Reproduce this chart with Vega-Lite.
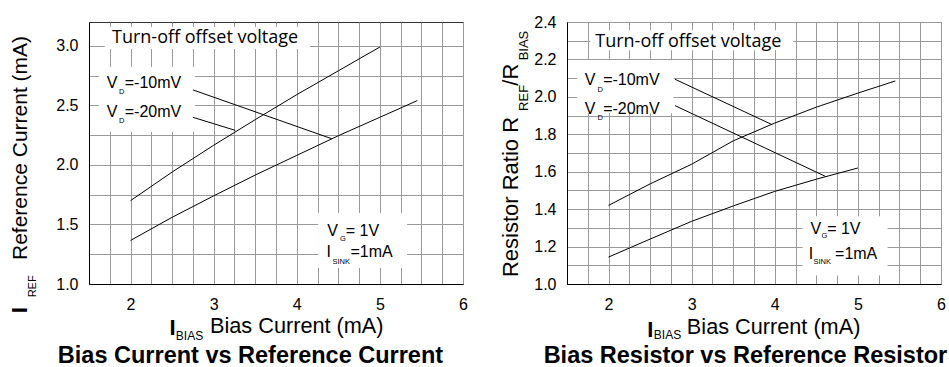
{
  "$schema": "https://vega.github.io/schema/vega-lite/v6.json",
  "padding": {"left": 8, "top": 13, "right": 0, "bottom": 0},
  "background": "white",
  "bounds": "flush",
  "spacing": 104,
  "config": {
    "font": "Liberation Sans",
    "view": {"stroke": "#333333", "strokeWidth": 1},
    "axis": {
      "grid": true, "gridColor": "#9a9a9a", "gridWidth": 1, "ticks": false,
      "domain": true, "domainColor": "#000000", "domainWidth": 1,
      "labelFont": "Liberation Sans", "labelFontSize": 16, "labelColor": "#000000",
      "labelFlush": false, "labelOverlap": false, "labelBound": false, "title": null
    },
    "axisX": {"labelPadding": 12},
    "axisY": {"labelPadding": 11}
  },
  "hconcat": [
    {
      "width": 374, "height": 262,
      "encoding": {
        "x": {"field": "x", "type": "quantitative", "scale": {"domain": [1.5, 6], "nice": false, "zero": false},
              "axis": {"values": [1.75,2,2.25,2.5,2.75,3,3.25,3.5,3.75,4,4.25,4.5,4.75,5,5.25,5.5,5.75,6],
                       "labelExpr": "datum.value % 1 === 0 ? format(datum.value, 'd') : ''"}},
        "y": {"field": "y", "type": "quantitative", "scale": {"domain": [1, 3.2], "nice": false, "zero": false},
              "axis": {"values": [1,1.25,1.5,1.75,2,2.25,2.5,2.75,3],
                       "labelExpr": "(datum.value * 2) % 1 === 0 ? format(datum.value, '.1f') : ''"}}
      },
      "layer": [
        {"data": {"values": [
          {"x": 1.69, "x2": 4.16, "y": 2.973, "y2": 3.158},
          {"x": 1.62, "x2": 2.776, "y": 2.276, "y2": 2.822},
          {"x": 4.256, "x2": 5.327, "y": 1.134, "y2": 1.596}]},
         "mark": {"type": "rect", "fill": "white"},
         "encoding": {"x2": {"field": "x2"}, "y2": {"field": "y2"}}},
        {"data": {"values": [
          {"s": "a", "x": 2, "y": 1.70}, {"s": "a", "x": 2.5, "y": 1.94}, {"s": "a", "x": 3, "y": 2.165},
          {"s": "a", "x": 3.5, "y": 2.38}, {"s": "a", "x": 4, "y": 2.59}, {"s": "a", "x": 4.5, "y": 2.79},
          {"s": "a", "x": 5, "y": 2.99},
          {"s": "b", "x": 2, "y": 1.366}, {"s": "b", "x": 2.5, "y": 1.56}, {"s": "b", "x": 3, "y": 1.74},
          {"s": "b", "x": 3.5, "y": 1.915}, {"s": "b", "x": 4, "y": 2.08}, {"s": "b", "x": 4.5, "y": 2.245},
          {"s": "b", "x": 5, "y": 2.40}, {"s": "b", "x": 5.45, "y": 2.54}]},
         "mark": {"type": "line", "color": "black", "strokeWidth": 1},
         "encoding": {"detail": {"field": "s"}}},
        {"data": {"values": [
          {"x": 2.75, "y": 2.63, "x2": 4.42, "y2": 2.22},
          {"x": 2.75, "y": 2.40, "x2": 3.26, "y2": 2.29}]},
         "mark": {"type": "rule", "color": "black", "strokeWidth": 1},
         "encoding": {"x2": {"field": "x2"}, "y2": {"field": "y2"}}},
        {"data": {"values": [{"t": "Turn-off offset voltage", "x": 1.777, "y": 3.021}]},
         "mark": {"type": "text", "font": "Open Sans", "fontSize": 18, "align": "left", "baseline": "alphabetic", "color": "black"},
         "encoding": {"text": {"field": "t"}}},
        {"data": {"values": [
          {"t": "V", "x": 1.713, "y": 2.643}, {"t": "=-10mV", "x": 1.93, "y": 2.643},
          {"t": "V", "x": 1.713, "y": 2.400}, {"t": "=-20mV", "x": 1.93, "y": 2.400},
          {"t": "V", "x": 4.368, "y": 1.403}, {"t": "= 1V", "x": 4.59, "y": 1.403},
          {"t": "I", "x": 4.359, "y": 1.224}, {"t": "=1mA", "x": 4.645, "y": 1.224}]},
         "mark": {"type": "text", "fontSize": 16, "align": "left", "baseline": "alphabetic", "color": "black"},
         "encoding": {"text": {"field": "t"}}},
        {"data": {"values": [
          {"t": "D", "x": 1.862, "y": 2.595}, {"t": "D", "x": 1.862, "y": 2.352},
          {"t": "G", "x": 4.52, "y": 1.364}, {"t": "SINK", "x": 4.43, "y": 1.168}]},
         "mark": {"type": "text", "fontSize": 7.5, "align": "left", "baseline": "alphabetic", "color": "black"},
         "encoding": {"text": {"field": "t"}}},
        {"data": {"values": [{"t": "Bias Current (mA)", "x": 2.956, "y": 0.586}]},
         "mark": {"type": "text", "fontSize": 21.7, "align": "left", "baseline": "alphabetic", "color": "black"},
         "encoding": {"text": {"field": "t"}}},
        {"data": {"values": [{"t": "I", "x": 2.469, "y": 0.572}]},
         "mark": {"type": "text", "fontSize": 22, "fontWeight": "bold", "align": "left", "baseline": "alphabetic", "color": "black"},
         "encoding": {"text": {"field": "t"}}},
        {"data": {"values": [{"t": "BIAS", "x": 2.545, "y": 0.53}]},
         "mark": {"type": "text", "fontSize": 12, "align": "left", "baseline": "alphabetic", "color": "black"},
         "encoding": {"text": {"field": "t"}}},
        {"data": {"values": [{"t": "Reference Current (mA)", "x": 0.750, "y": 1.2015}]},
         "mark": {"type": "text", "fontSize": 21, "angle": 270, "align": "left", "baseline": "alphabetic", "color": "black"},
         "encoding": {"text": {"field": "t"}}},
        {"data": {"values": [{"t": "I", "x": 0.750, "y": 0.754}]},
         "mark": {"type": "text", "fontSize": 22, "fontWeight": "bold", "angle": 270, "align": "left", "baseline": "alphabetic", "color": "black"},
         "encoding": {"text": {"field": "t"}}},
        {"data": {"values": [{"t": "REF", "x": 0.862, "y": 0.888}]},
         "mark": {"type": "text", "fontSize": 11, "angle": 270, "align": "left", "baseline": "alphabetic", "color": "black"},
         "encoding": {"text": {"field": "t"}}},
        {"data": {"values": [{"t": "Bias Current vs Reference Current", "x": 3.443, "y": 0.337}]},
         "mark": {"type": "text", "fontSize": 23.5, "fontWeight": "bold", "align": "center", "baseline": "alphabetic", "color": "black"},
         "encoding": {"text": {"field": "t"}}}
      ]
    },
    {
      "width": 374, "height": 262,
      "encoding": {
        "x": {"field": "x", "type": "quantitative", "scale": {"domain": [1.5, 6], "nice": false, "zero": false},
              "axis": {"values": [1.75,2,2.25,2.5,2.75,3,3.25,3.5,3.75,4,4.25,4.5,4.75,5,5.25,5.5,5.75,6],
                       "labelExpr": "datum.value % 1 === 0 ? format(datum.value, 'd') : ''"}},
        "y": {"field": "y", "type": "quantitative", "scale": {"domain": [1, 2.4], "nice": false, "zero": false},
              "axis": {"values": [1,1.1,1.2,1.3,1.4,1.5,1.6,1.7,1.8,1.9,2,2.1,2.2,2.3,2.4],
                       "labelExpr": "round(datum.value * 10) % 2 === 0 ? format(datum.value, '.1f') : ''"}}
      },
      "layer": [
        {"data": {"values": [
          {"x": 1.78, "x2": 4.225, "y": 2.249, "y2": 2.356},
          {"x": 1.623, "x2": 2.78, "y": 1.912, "y2": 2.195},
          {"x": 4.334, "x2": 5.358, "y": 1.046, "y2": 1.362}]},
         "mark": {"type": "rect", "fill": "white"},
         "encoding": {"x2": {"field": "x2"}, "y2": {"field": "y2"}}},
        {"data": {"values": [
          {"s": "c", "x": 2, "y": 1.42}, {"s": "c", "x": 2.5, "y": 1.535}, {"s": "c", "x": 3, "y": 1.64},
          {"s": "c", "x": 3.5, "y": 1.765}, {"s": "c", "x": 4, "y": 1.86}, {"s": "c", "x": 4.5, "y": 1.945},
          {"s": "c", "x": 5, "y": 2.02}, {"s": "c", "x": 5.45, "y": 2.085},
          {"s": "d", "x": 2, "y": 1.144}, {"s": "d", "x": 2.5, "y": 1.24}, {"s": "d", "x": 3, "y": 1.335},
          {"s": "d", "x": 3.5, "y": 1.417}, {"s": "d", "x": 4, "y": 1.495}, {"s": "d", "x": 4.5, "y": 1.56},
          {"s": "d", "x": 5, "y": 1.62}]},
         "mark": {"type": "line", "color": "black", "strokeWidth": 1},
         "encoding": {"detail": {"field": "s"}}},
        {"data": {"values": [
          {"x": 2.80, "y": 2.094, "x2": 3.97, "y2": 1.851},
          {"x": 2.80, "y": 1.953, "x2": 4.61, "y2": 1.575}]},
         "mark": {"type": "rule", "color": "black", "strokeWidth": 1},
         "encoding": {"x2": {"field": "x2"}, "y2": {"field": "y2"}}},
        {"data": {"values": [{"t": "Turn-off offset voltage", "x": 1.84, "y": 2.266}]},
         "mark": {"type": "text", "font": "Open Sans", "fontSize": 18, "align": "left", "baseline": "alphabetic", "color": "black"},
         "encoding": {"text": {"field": "t"}}},
        {"data": {"values": [
          {"t": "V", "x": 1.715, "y": 2.062}, {"t": "=-10mV", "x": 1.935, "y": 2.062},
          {"t": "V", "x": 1.715, "y": 1.911}, {"t": "=-20mV", "x": 1.935, "y": 1.911},
          {"t": "V", "x": 4.43, "y": 1.269}, {"t": "= 1V", "x": 4.63, "y": 1.269},
          {"t": "I", "x": 4.41, "y": 1.136}, {"t": "=1mA", "x": 4.725, "y": 1.136}]},
         "mark": {"type": "text", "fontSize": 16, "align": "left", "baseline": "alphabetic", "color": "black"},
         "encoding": {"text": {"field": "t"}}},
        {"data": {"values": [
          {"t": "D", "x": 1.866, "y": 2.026}, {"t": "D", "x": 1.866, "y": 1.875},
          {"t": "G", "x": 4.563, "y": 1.244}, {"t": "SINK", "x": 4.466, "y": 1.109}]},
         "mark": {"type": "text", "fontSize": 7.5, "align": "left", "baseline": "alphabetic", "color": "black"},
         "encoding": {"text": {"field": "t"}}},
        {"data": {"values": [{"t": "Bias Current (mA)", "x": 2.942, "y": 0.735}]},
         "mark": {"type": "text", "fontSize": 21.7, "align": "left", "baseline": "alphabetic", "color": "black"},
         "encoding": {"text": {"field": "t"}}},
        {"data": {"values": [{"t": "I", "x": 2.465, "y": 0.717}]},
         "mark": {"type": "text", "fontSize": 22, "fontWeight": "bold", "align": "left", "baseline": "alphabetic", "color": "black"},
         "encoding": {"text": {"field": "t"}}},
        {"data": {"values": [{"t": "BIAS", "x": 2.545, "y": 0.705}]},
         "mark": {"type": "text", "fontSize": 12, "align": "left", "baseline": "alphabetic", "color": "black"},
         "encoding": {"text": {"field": "t"}}},
        {"data": {"values": [
          {"t": "Resistor Ratio R", "x": 0.916, "y": 1.037},
          {"t": "/R", "x": 0.916, "y": 2.06}]},
         "mark": {"type": "text", "fontSize": 22, "angle": 270, "align": "left", "baseline": "alphabetic", "color": "black"},
         "encoding": {"text": {"field": "t"}}},
        {"data": {"values": [
          {"t": "REF", "x": 1.036, "y": 1.925},
          {"t": "BIAS", "x": 1.036, "y": 2.195}]},
         "mark": {"type": "text", "fontSize": 13, "angle": 270, "align": "left", "baseline": "alphabetic", "color": "black"},
         "encoding": {"text": {"field": "t"}}},
        {"data": {"values": [{"t": "Bias Resistor vs Reference Resistor", "x": 3.647, "y": 0.576}]},
         "mark": {"type": "text", "fontSize": 23.5, "fontWeight": "bold", "align": "center", "baseline": "alphabetic", "color": "black"},
         "encoding": {"text": {"field": "t"}}}
      ]
    }
  ]
}
